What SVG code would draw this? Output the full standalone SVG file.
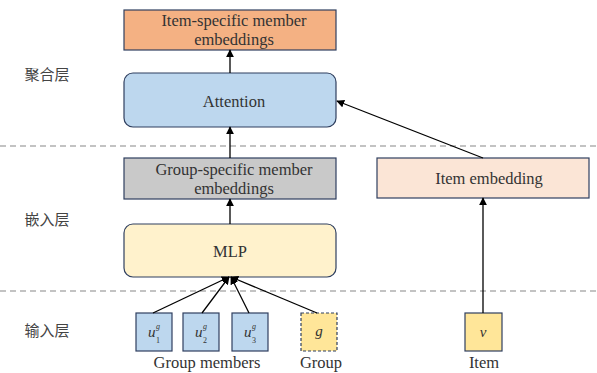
<svg xmlns="http://www.w3.org/2000/svg" width="597" height="373" viewBox="0 0 597 373">
  <style>
    .box { stroke: #2f3f5f; stroke-width: 1.2; }
    .lbl { font-family: "Liberation Serif", "DejaVu Serif", serif; font-size: 16.5px; fill: #333; text-anchor: middle; }
    .math { font-family: "Liberation Serif", "DejaVu Serif", serif; font-style: italic; fill: #333; }
    .sub { font-family: "Liberation Serif", "DejaVu Serif", serif; font-size: 8px; fill: #333; }
    .layer { font-family: "Noto Sans CJK SC", sans-serif; font-size: 15px; fill: #444; text-anchor: middle; }
    .sep { stroke: #888; stroke-width: 1.2; stroke-dasharray: 6 4; fill: none; }
    .conn { stroke: #000; stroke-width: 1.3; fill: none; marker-end: url(#arr); }
  </style>
  <defs>
    <marker id="arr" viewBox="0 0 10 10" refX="9" refY="5" markerWidth="8" markerHeight="8" markerUnits="userSpaceOnUse" orient="auto">
      <path d="M0,0 L10,5 L0,10 z" fill="#000"/>
    </marker>
  </defs>
  <rect width="597" height="373" fill="#fff"/>

  <!-- layer separators -->
  <line class="sep" x1="0" y1="146" x2="597" y2="146"/>
  <line class="sep" x1="0" y1="291" x2="597" y2="291"/>

  <!-- layer names -->
  <text class="layer" x="47" y="80">聚合层</text>
  <text class="layer" x="47" y="225">嵌入层</text>
  <text class="layer" x="47" y="336">输入层</text>

  <g id="item-specific">
    <rect class="box" x="124" y="10" width="212" height="40" fill="#f4b183"/>
    <text class="lbl" x="234" y="26">Item-specific member</text>
    <text class="lbl" x="234" y="45">embeddings</text>
  </g>

  <g id="attention">
    <rect class="box" x="124" y="73" width="212" height="54" rx="9" fill="#bdd7ee"/>
    <text class="lbl" x="234" y="107">Attention</text>
  </g>

  <g id="group-specific">
    <rect class="box" x="124" y="158" width="212" height="41" fill="#c9c9c9"/>
    <text class="lbl" x="234" y="175">Group-specific member</text>
    <text class="lbl" x="234" y="194">embeddings</text>
  </g>

  <g id="mlp">
    <rect class="box" x="124" y="224" width="212" height="53" rx="9" fill="#fff2cc"/>
    <text class="lbl" x="230" y="257">MLP</text>
  </g>

  <g id="item-embedding">
    <rect class="box" x="377" y="158" width="212" height="40" fill="#fbe5d6"/>
    <text class="lbl" x="489" y="184">Item embedding</text>
  </g>

  <g id="u1">
    <rect class="box" x="136" y="313" width="36" height="38" fill="#bdd7ee"/>
    <text class="math" x="148" y="337" font-size="15">u</text>
    <text class="math" x="156" y="329" font-size="8">g</text>
    <text class="sub" x="156" y="343">1</text>
  </g>
  <g id="u2">
    <rect class="box" x="183" y="313" width="36" height="38" fill="#bdd7ee"/>
    <text class="math" x="195" y="337" font-size="15">u</text>
    <text class="math" x="203" y="329" font-size="8">g</text>
    <text class="sub" x="203" y="343">2</text>
  </g>
  <g id="u3">
    <rect class="box" x="232" y="313" width="36" height="38" fill="#bdd7ee"/>
    <text class="math" x="244" y="337" font-size="15">u</text>
    <text class="math" x="252" y="329" font-size="8">g</text>
    <text class="sub" x="252" y="343">3</text>
  </g>
  <g id="group">
    <rect class="box" x="301" y="313" width="36" height="38" fill="#ffe699" stroke-dasharray="3 2"/>
    <text class="math" x="319" y="336" font-size="15" text-anchor="middle">g</text>
  </g>
  <g id="item">
    <rect class="box" x="465" y="313" width="37" height="38" fill="#ffe699"/>
    <text class="math" x="483" y="337" font-size="15" text-anchor="middle">v</text>
  </g>

  <!-- captions -->
  <text class="lbl" x="207" y="368">Group members</text>
  <text class="lbl" x="321" y="368">Group</text>
  <text class="lbl" x="484" y="368">Item</text>

  <g id="connectors">
    <line class="conn" x1="230" y1="73" x2="230" y2="50"/>
    <line class="conn" x1="230" y1="158" x2="230" y2="127"/>
    <line class="conn" x1="230" y1="224" x2="230" y2="199"/>
    <line class="conn" x1="483" y1="158" x2="337" y2="101"/>
    <line class="conn" x1="483" y1="313" x2="483" y2="198"/>
    <line class="conn" x1="153" y1="313" x2="229" y2="277"/>
    <line class="conn" x1="202" y1="313" x2="229" y2="277"/>
    <line class="conn" x1="249" y1="313" x2="231" y2="277"/>
    <line class="conn" x1="317" y1="313" x2="231" y2="277"/>
  </g>
</svg>
